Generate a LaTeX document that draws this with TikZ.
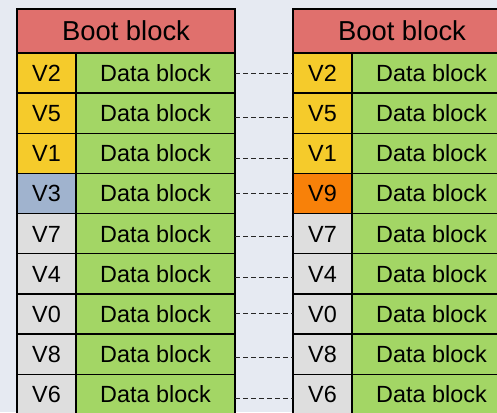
\documentclass[tikz,border=0pt]{standalone}
\usepackage{fontspec}
\setmainfont{Liberation Sans}
\usetikzlibrary{calc}

\definecolor{bg}{HTML}{E6EAF2}
\definecolor{bootred}{HTML}{E0706D}
\definecolor{vyellow}{HTML}{F5CB2B}
\definecolor{datagreen}{HTML}{A3D665}
\definecolor{vgrey}{HTML}{DEDEDE}
\definecolor{vblue}{HTML}{A0B3CE}
\definecolor{vorange}{HTML}{F88109}
\definecolor{linkgrey}{HTML}{262626}

\begin{document}
\begin{tikzpicture}[x=1pt,y=-1pt,
  cell/.style={draw=black,line width=1.4pt,inner sep=0pt,outer sep=0pt,
    minimum height=40.15pt,text height=16.75pt,text depth=0pt,
    font=\fontsize{23.4pt}{28pt}\selectfont},
  vcell/.style={cell,minimum width=59pt},
  dcell/.style={cell,minimum width=159pt,fill=datagreen},
  bootcell/.style={cell,minimum width=218pt,minimum height=44pt,fill=bootred,
    text height=19.6pt,font=\fontsize{27.4pt}{32pt}\selectfont},
  link/.style={draw=linkgrey,line width=1.7pt,dash pattern=on 4.5pt off 3.5pt}]

  % canvas
  \path[use as bounding box,fill=bg] (0,0) rectangle (497,412);
  \clip (0,0) rectangle (497,412);

  % left volume
  \node[bootcell] (Lboot) at (126,31) {Boot block};
  \foreach \i/\lab/\col in {1/V2/vyellow,2/V5/vyellow,3/V1/vyellow,4/V3/vblue,
      5/V7/vgrey,6/V4/vgrey,7/V0/vgrey,8/V8/vgrey,9/V6/vgrey} {
    \node[vcell,fill=\col] (Lv\i) at (46.5,{53+40.15*(\i-0.5)}) {\lab};
    \node[dcell] (Ld\i) at (155.5,{53+40.15*(\i-0.5)}) {Data block};
  }

  % right volume
  \node[bootcell] (Rboot) at (402,31) {Boot block};
  \foreach \i/\lab/\col in {1/V2/vyellow,2/V5/vyellow,3/V1/vyellow,4/V9/vorange,
      5/V7/vgrey,6/V4/vgrey,7/V0/vgrey,8/V8/vgrey,9/V6/vgrey} {
    \node[vcell,fill=\col] (Rv\i) at (322.5,{53+40.15*(\i-0.5)}) {\lab};
    \node[dcell] (Rd\i) at (431.5,{53+40.15*(\i-0.5)}) {Data block};
  }

  % block correspondences (each link sits slightly off its row centre)
  \foreach \i/\dy in {1/0.425,2/4.275,3/5.125,4/-0.025,5/2.825,6/3.675,
      7/-0.475,8/3.375,9/4.225} {
    \draw[link] ($(Ld\i.east)+(0,\dy)$) -- ($(Rv\i.west)+(0,\dy)$);
  }
\end{tikzpicture}
\end{document}
